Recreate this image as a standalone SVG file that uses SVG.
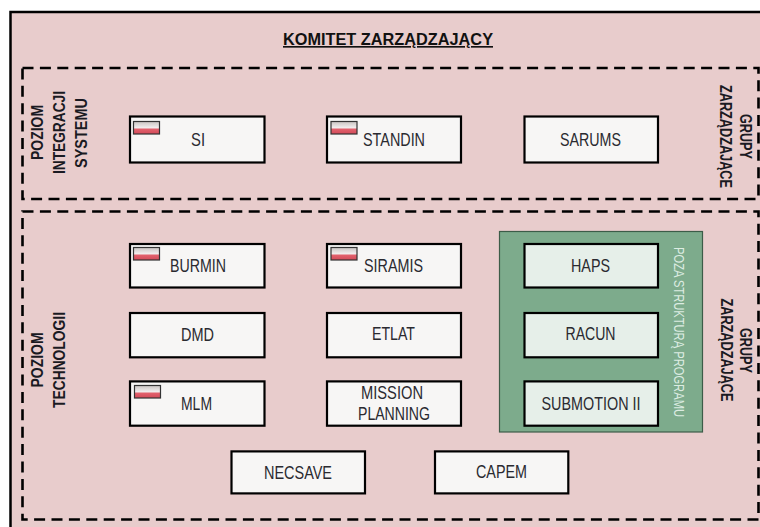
<svg xmlns="http://www.w3.org/2000/svg" width="760" height="527" viewBox="0 0 760 527">
<style>
text{font-family:"Liberation Sans",Arial,sans-serif;fill:#2a2a30;text-anchor:middle}
.b{fill:#f7f6f5;stroke:#000;stroke-width:2.2}
.g{fill:#e6efe9;stroke:#000;stroke-width:2.2}
.d{fill:none;stroke:#000;stroke-width:2.6;stroke-dasharray:11 6.4}
.l{font-size:17.500px}
.h{font-size:16.500px;font-weight:bold;fill:#111}
.v{font-size:17px;font-weight:bold;fill:#1a1a22}
.f{stroke:#333;stroke-width:1.2;fill:url(#fl)}
</style>
<defs>
<linearGradient id="fl" x1="0" y1="0" x2="0" y2="1">
<stop offset="0" stop-color="#c9c4c2"/><stop offset="0.5" stop-color="#f2eeee"/><stop offset="0.62" stop-color="#e2606c"/><stop offset="1" stop-color="#d24a58"/>
</linearGradient>
<symbol id="flag" overflow="visible"><rect class="f" x="0" y="0" width="26" height="12.5"/></symbol>
</defs>
<rect width="760" height="527" fill="#fff"/>
<rect id="komitet" x="10.500" y="12" width="760" height="530" fill="#e8cccc" stroke="#000" stroke-width="2.500"/>
<text class="h" x="388" y="45" textLength="210" lengthAdjust="spacingAndGlyphs" style="text-decoration:underline">KOMITET ZARZĄDZAJĄCY</text>

<g id="connectors"></g>

<g id="poziom-integracji">
<rect class="d" x="22.500" y="68" width="736" height="131"/>
<text class="v" transform="translate(43,132.500) rotate(-90)" textLength="55" lengthAdjust="spacingAndGlyphs">POZIOM</text>
<text class="v" transform="translate(64.500,132.500) rotate(-90)" textLength="83" lengthAdjust="spacingAndGlyphs">INTEGRACJI</text>
<text class="v" transform="translate(87,133) rotate(-90)" textLength="70" lengthAdjust="spacingAndGlyphs">SYSTEMU</text>
<text class="v" transform="translate(720,136.500) rotate(90)" textLength="103" lengthAdjust="spacingAndGlyphs">ZARZĄDZAJĄCE</text>
<text class="v" transform="translate(740,136.500) rotate(90)" textLength="45" lengthAdjust="spacingAndGlyphs">GRUPY</text>
</g>
<g id="poziom-technologii">
<rect class="d" x="22.500" y="211.500" width="736" height="308"/>
<text class="v" transform="translate(43,360) rotate(-90)" textLength="55" lengthAdjust="spacingAndGlyphs">POZIOM</text>
<text class="v" transform="translate(64.500,360) rotate(-90)" textLength="96" lengthAdjust="spacingAndGlyphs">TECHNOLOGII</text>
<text class="v" transform="translate(720.500,350) rotate(90)" textLength="103" lengthAdjust="spacingAndGlyphs">ZARZĄDZAJĄCE</text>
<text class="v" transform="translate(740,350.500) rotate(90)" textLength="45" lengthAdjust="spacingAndGlyphs">GRUPY</text>
</g>
<g id="poza-struktura">
<rect x="499.500" y="231.500" width="203" height="200.500" fill="#7dab8c" stroke="#3c5c48" stroke-width="1.200"/>
<text transform="translate(673.500,332) rotate(90)" font-size="15.500" textLength="170" lengthAdjust="spacingAndGlyphs" style="fill:#dcece2">POZA STRUKTURĄ PROGRAMU</text>
</g>

<g id="si"><rect class="b" x="130" y="116.500" width="134.500" height="46"/><use href="#flag" x="133.500" y="121.500"/><text class="l" x="198" y="146" textLength="14" lengthAdjust="spacingAndGlyphs">SI</text></g>
<g id="standin"><rect class="b" x="327" y="116.500" width="134" height="46"/><use href="#flag" x="331" y="121.500"/><text class="l" x="394" y="146" textLength="62" lengthAdjust="spacingAndGlyphs">STANDIN</text></g>
<g id="sarums"><rect class="b" x="524.500" y="116.500" width="133.500" height="46"/><text class="l" x="590.500" y="146" textLength="61" lengthAdjust="spacingAndGlyphs">SARUMS</text></g>

<g id="burmin"><rect class="b" x="130" y="244" width="134.500" height="43.500"/><use href="#flag" x="133.500" y="247.500"/><text class="l" x="198" y="272" textLength="56" lengthAdjust="spacingAndGlyphs">BURMIN</text></g>
<g id="siramis"><rect class="b" x="327" y="244" width="134" height="43.500"/><use href="#flag" x="331" y="247.500"/><text class="l" x="393.500" y="272" textLength="59" lengthAdjust="spacingAndGlyphs">SIRAMIS</text></g>
<g id="haps"><rect class="g" x="524.500" y="244" width="133.500" height="43.500"/><text class="l" x="590.500" y="272" textLength="39" lengthAdjust="spacingAndGlyphs">HAPS</text></g>

<g id="dmd"><rect class="b" x="130" y="313" width="134.500" height="44.300"/><text class="l" x="197.500" y="341" textLength="33" lengthAdjust="spacingAndGlyphs">DMD</text></g>
<g id="etlat"><rect class="b" x="327" y="313" width="134" height="44.300"/><text class="l" x="393.500" y="340" textLength="43" lengthAdjust="spacingAndGlyphs">ETLAT</text></g>
<g id="racun"><rect class="g" x="524.500" y="313" width="133.500" height="44.300"/><text class="l" x="590.500" y="340" textLength="50" lengthAdjust="spacingAndGlyphs">RACUN</text></g>

<g id="mlm"><rect class="b" x="130" y="381.400" width="134.500" height="44.300"/><use href="#flag" x="134.500" y="385.500"/><text class="l" x="196.500" y="410" textLength="31" lengthAdjust="spacingAndGlyphs">MLM</text></g>
<g id="mission-planning"><rect class="b" x="327" y="381.400" width="134" height="44.300"/><text class="l" x="392" y="399" textLength="62" lengthAdjust="spacingAndGlyphs">MISSION</text><text class="l" x="394" y="419.500" textLength="72" lengthAdjust="spacingAndGlyphs">PLANNING</text></g>
<g id="submotion"><rect class="g" x="524.500" y="381.400" width="133.500" height="44.300"/><text class="l" x="591" y="410" textLength="99" lengthAdjust="spacingAndGlyphs">SUBMOTION II</text></g>

<g id="necsave"><rect class="b" x="231.500" y="451.400" width="133.500" height="42"/><text class="l" x="298" y="479" textLength="68" lengthAdjust="spacingAndGlyphs">NECSAVE</text></g>
<g id="capem"><rect class="b" x="435" y="451.400" width="133.300" height="42"/><text class="l" x="501.500" y="478" textLength="51" lengthAdjust="spacingAndGlyphs">CAPEM</text></g>
</svg>
